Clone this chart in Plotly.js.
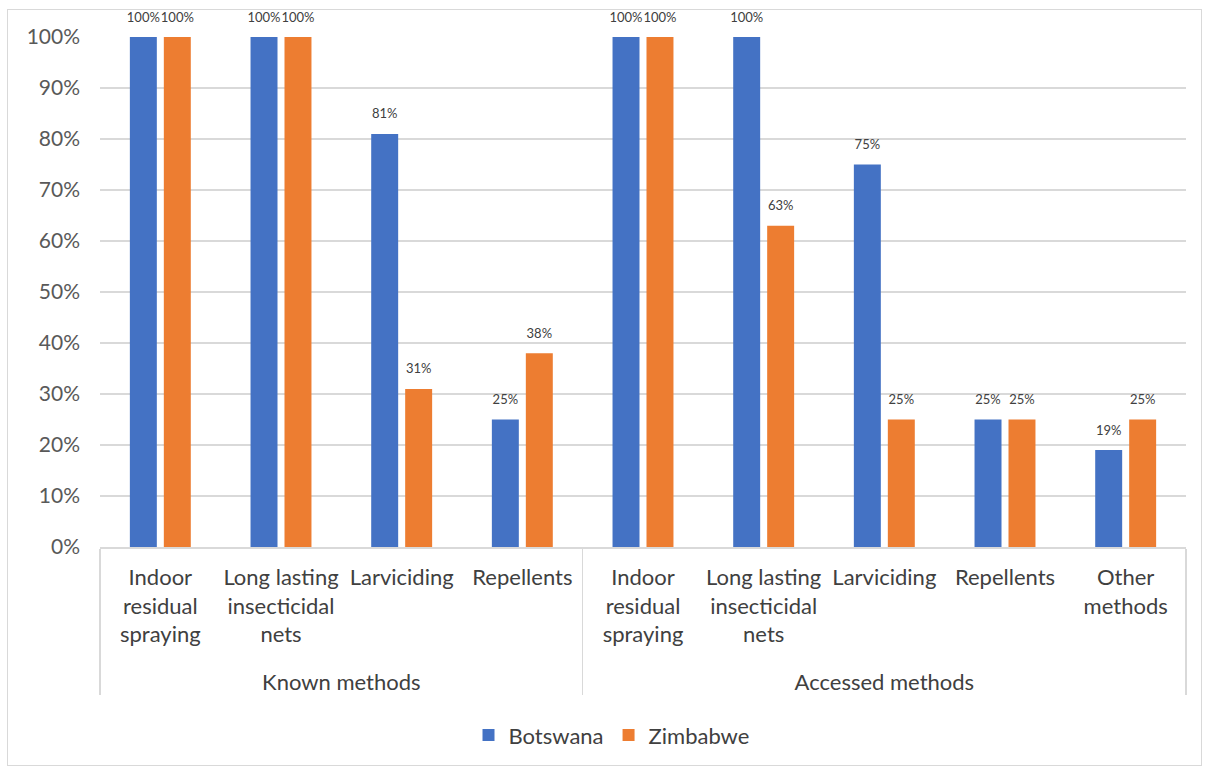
<!DOCTYPE html>
<html>
<head>
<meta charset="utf-8">
<script src="https://cdn.plot.ly/plotly-3.0.1.min.js"></script>
<style>
html,body{margin:0;padding:0;background:#fff;}
#wrap{position:relative;width:1209px;height:770px;}
#chart{position:absolute;left:0;top:0;width:1209px;height:770px;}
#frame{position:absolute;left:7px;top:9px;width:1193px;height:755px;border:1px solid #d9d9d9;pointer-events:none;}
</style>
</head>
<body>
<div id="wrap"><div id="chart"></div><div id="frame"></div></div>
<script>
const groups = ["Known methods","Known methods","Known methods","Known methods",
  "Accessed methods","Accessed methods","Accessed methods","Accessed methods","Accessed methods"];
const categories = ["Indoor<br>residual<br>spraying<br>\u00a0","Long lasting<br>insecticidal<br>nets","Larviciding","Repellents",
  "Indoor<br>residual<br>spraying<br>\u00a0","Long lasting<br>insecticidal<br>nets","Larviciding","Repellents","Other<br>methods"];
const botswana = [100,100,81,25,100,100,75,25,19];
const zimbabwe = [100,100,31,38,100,63,25,25,25];
const seriesNames = ["Botswana","Zimbabwe"];
const colors = ["#4472C4","#ED7D31"];

const x = [groups, categories];
const mk = (vals, i) => ({
  type: "bar", name: seriesNames[i], x: x, y: vals,
  marker: {color: colors[i]},
  texttemplate: "<span style='font-size:13px'>%{y}</span><br>\u00a0",
  textposition: "outside", cliponaxis: false,
  constraintext: "none",
  textfont: {family: "Lato, 'Open Sans', sans-serif", size: 8, color: "#404040"},
  hoverinfo: "skip"
});

const data = [mk(botswana,0), mk(zimbabwe,1)];
const layout = {
  width: 1209, height: 770,
  margin: {l: 100, r: 23, t: 37, b: 223},
  paper_bgcolor: "#fff", plot_bgcolor: "#fff",
  barmode: "group", bargap: 0.437, bargroupgap: 0.206,
  font: {family: "Lato, 'Open Sans', sans-serif", size: 22, color: "#404040"},
  xaxis: {
    type: "multicategory", showgrid: false, zeroline: false,
    showline: true, linecolor: "#d9d9d9", linewidth: 1.5,
    ticks: "", tickangle: 0, tickfont: {size: 22, color: "#404040"}, ticklabelstandoff: 10,
    showdividers: true, dividercolor: "#d9d9d9", dividerwidth: 1.5
  },
  yaxis: {
    range: [0, 100], dtick: 10, ticksuffix: "%",
    showgrid: true, gridcolor: "#d9d9d9", gridwidth: 1.5,
    zeroline: false, showline: false, ticks: "",
    tickfont: {size: 21, color: "#595959"}, ticklabelstandoff: 19
  },
  showlegend: true,
  legend: {orientation: "h", x: 0.471, xanchor: "center", y: -0.369, yanchor: "middle",
    font: {size: 22, color: "#404040"}, itemsizing: "constant", traceorder: "normal"}
};
Plotly.newPlot("chart", data, layout, {displayModeBar: false, staticPlot: true});
</script>
</body>
</html>
